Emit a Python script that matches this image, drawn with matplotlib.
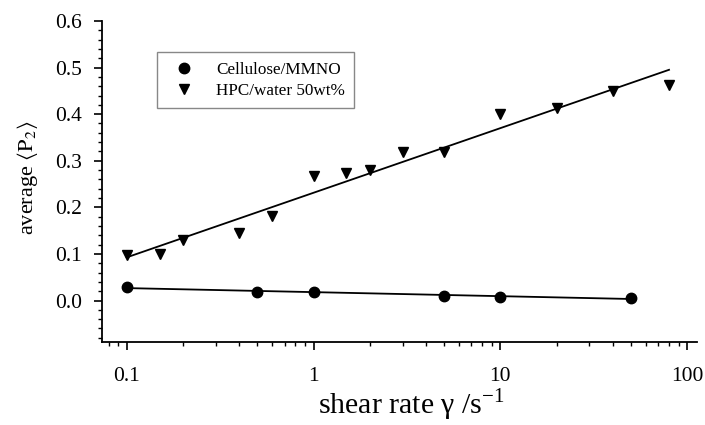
import numpy as np
import matplotlib
matplotlib.use('Agg')
import matplotlib.pyplot as plt
from matplotlib.ticker import MultipleLocator, LogLocator, NullFormatter, FixedFormatter, FixedLocator

plt.rcParams['font.family'] = ['Liberation Serif', 'DejaVu Serif']
plt.rcParams['mathtext.fontset'] = 'stix'

# Cellulose/MMNO (circles)
cell_rate = [0.1, 0.5, 1, 5, 10, 50]
cell_p2 = [0.029, 0.019, 0.018, 0.010, 0.008, 0.006]

# HPC/water 50wt% (triangles)
hpc_rate = [0.1, 0.15, 0.2, 0.4, 0.6, 1, 1.5, 2, 3, 5, 10, 20, 40, 80]
hpc_p2 = [0.098, 0.099, 0.130, 0.145, 0.181, 0.268, 0.274, 0.281, 0.318, 0.318,
          0.400, 0.414, 0.449, 0.462]

x_ticks = [0.1, 1, 10, 100]
x_ticklabels = ['0.1', '1', '10', '100']

fig = plt.figure(figsize=(7.05, 4.25), dpi=100)
ax = fig.add_axes([0.1443, 0.1953, 0.8444, 0.7553])

# linear fits of P2 against log(rate)
for rate, p2 in [(cell_rate, cell_p2), (hpc_rate, hpc_p2)]:
    lr = np.log10(rate)
    k, b = np.polyfit(lr, p2, 1)
    xs = np.array([min(rate), max(rate)])
    ax.plot(xs, k * np.log10(xs) + b, color='black', lw=1.3, zorder=2)

ax.plot(cell_rate, cell_p2, 'o', color='black', ms=7.5, label='Cellulose/MMNO', zorder=3)
ax.plot(hpc_rate, hpc_p2, 'v', color='black', ms=7.8, label='HPC/water 50wt%', zorder=3)

ax.set_xscale('log')
ax.set_xlim(0.0735, 113)
ax.set_ylim(-0.089, 0.6)

ax.xaxis.set_major_locator(FixedLocator(x_ticks))
ax.xaxis.set_major_formatter(FixedFormatter(x_ticklabels))
ax.xaxis.set_minor_locator(LogLocator(base=10, subs=np.arange(2, 10)))
ax.xaxis.set_minor_formatter(NullFormatter())

ax.yaxis.set_major_locator(MultipleLocator(0.1))
ax.yaxis.set_minor_locator(MultipleLocator(0.02))
ax.yaxis.set_major_formatter(matplotlib.ticker.FormatStrFormatter('%.1f'))

for s in ['top', 'right']:
    ax.spines[s].set_visible(False)
for s in ['left', 'bottom']:
    ax.spines[s].set_linewidth(1.3)

ax.tick_params(which='major', direction='out', length=6, width=1.2, labelsize=15.5)
ax.tick_params(axis='x', which='major', pad=12)
ax.tick_params(axis='y', which='major', pad=8)
ax.tick_params(which='minor', direction='out', length=3, width=1.0)

ax.set_xlabel(r'shear rate γ /s$^{\mathregular{-1}}$', fontsize=21.5)
ax.xaxis.set_label_coords(0.52, -0.143)
ax.set_ylabel(r'average $\langle\mathrm{P}_2\rangle$', fontsize=16)
ax.yaxis.set_label_coords(-0.104, 0.51)

leg = ax.legend(loc='upper left', bbox_to_anchor=(0.093, 0.903), fontsize=12.3,
                frameon=True, fancybox=False, edgecolor='#888888', framealpha=1,
                handletextpad=0.9, borderpad=0.55, labelspacing=0.3, markerscale=1.0,
                borderaxespad=0)
leg.get_frame().set_linewidth(1.0)

fig.savefig('out.png', dpi=100)
